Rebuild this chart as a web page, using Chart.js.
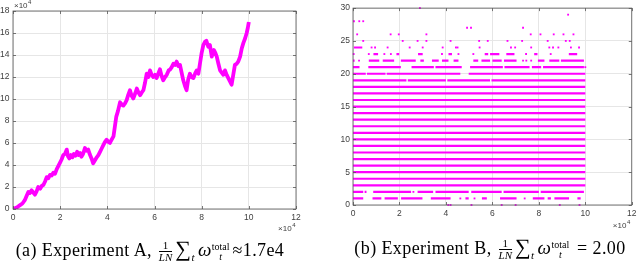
<!DOCTYPE html>
<html>
<head>
<meta charset="utf-8">
<script src="https://cdn.jsdelivr.net/npm/chart.js@4"></script>
<style>
  html, body { margin: 0; padding: 0; background: #fff; }
  body { width: 640px; height: 262px; position: relative; overflow: hidden; }
  .panel { position: absolute; top: 0; width: 320px; height: 262px; }
  .cap {
    position: absolute; width: 300px; text-align: center; white-space: nowrap;
    font-family: 'Liberation Serif', 'DejaVu Serif', serif; font-size: 18px; letter-spacing: 0.4px;
    line-height: 22px; color: #000;
  }
  .frac { display: inline-flex; flex-direction: column; vertical-align: middle; font-size: 11px; line-height: 11px;
    text-align: center; margin: 0 3px 0 2px; letter-spacing: 0; }
  .frac .num { border-bottom: 0.8px solid #000; }
  .sum { font-size: 22px; }
  .sub { font-size: 11px; position: relative; top: 5px; margin-right: 3px; }
  .om { font-size: 19px; }
  .ss { display: inline-flex; flex-direction: column; vertical-align: middle; font-size: 10px; line-height: 10px;
    letter-spacing: 0; margin-right: 3px; }
</style>
</head>
<body>
<div class="panel" style="left:0"><canvas id="chartA" width="320" height="262"></canvas></div>
<div class="panel" style="left:320px"><canvas id="chartB" width="320" height="262"></canvas></div>
<div class="cap" style="left:0; top:238px">(a) Experiment A, <span class="frac"><span class="num">1</span><span><i>LN</i></span></span><span class="sum">∑</span><span class="sub"><i>t</i></span><i class="om">ω</i><span class="ss"><span>total</span><span><i>t</i></span></span>≈1.7e4</div>
<div class="cap" style="left:340px; top:236px">(b) Experiment B, <span class="frac"><span class="num">1</span><span><i>LN</i></span></span><span class="sum">∑</span><span class="sub"><i>t</i></span><i class="om">ω</i><span class="ss"><span>total</span><span><i>t</i></span></span> = 2.00</div>
<script>
// x values are in units of 1e4 (axis shows x10^4)
const xTicks = [0, 2, 4, 6, 8, 10, 12];
const yTicksA = [0, 2, 4, 6, 8, 10, 12, 14, 16, 18];
const yTicksB = [0, 5, 10, 15, 20, 25, 30];

// Experiment A: cumulative total (units of 1e4)
const stepsA = [0, 0.1, 0.2, 0.3, 0.4, 0.5, 0.58, 0.65, 0.72, 0.79, 0.86, 0.93, 1.0, 1.07, 1.15, 1.22, 1.29, 1.36, 1.43, 1.5,
  1.57, 1.64, 1.71, 1.78, 1.85, 1.92, 1.99, 2.06, 2.13, 2.2, 2.28, 2.33, 2.39, 2.46, 2.52, 2.58, 2.65, 2.72, 2.78, 2.85,
  2.9, 2.97, 3.05, 3.12, 3.19, 3.26, 3.33, 3.4, 3.47, 3.55, 3.62, 3.69, 3.76, 3.83, 3.9, 3.97, 4.04, 4.11, 4.18, 4.26,
  4.32, 4.38, 4.45, 4.54, 4.61, 4.68, 4.75, 4.82, 4.89, 4.96, 5.03, 5.1, 5.18, 5.25, 5.32, 5.39, 5.46, 5.53, 5.6, 5.67,
  5.74, 5.81, 5.88, 5.95, 6.02, 6.09, 6.16, 6.23, 6.3, 6.37, 6.45, 6.52, 6.6, 6.67, 6.73, 6.8, 6.87, 6.94, 7.01, 7.08,
  7.15, 7.22, 7.29, 7.36, 7.43, 7.5, 7.57, 7.65, 7.72, 7.79, 7.86, 7.93, 8.0, 8.07, 8.14, 8.2, 8.28, 8.35, 8.43, 8.48,
  8.52, 8.58, 8.64, 8.71, 8.78, 8.85, 8.92, 8.99, 9.06, 9.13, 9.2, 9.27, 9.34, 9.41, 9.48, 9.55, 9.63, 9.7, 9.77, 9.84,
  9.91, 9.96, 10.0];
const totalA = [0, 0.08, 0.2, 0.35, 0.5, 0.8, 1.2, 1.55, 1.45, 1.7, 1.5, 1.3, 1.6, 2.0, 1.85, 2.1, 2.2, 2.5, 2.9, 2.8,
  3.1, 3.05, 3.3, 3.2, 3.6, 3.9, 4.2, 4.5, 4.9, 5.0, 5.4, 4.8, 4.6, 4.9, 4.7, 5.0, 4.85, 5.2, 4.9, 5.1,
  4.75, 5.0, 5.55, 5.3, 5.4, 4.95, 4.6, 4.15, 4.4, 4.7, 4.9, 5.2, 5.5, 5.8, 6.1, 6.3, 6.1, 6.0, 6.3, 6.6,
  7.5, 8.4, 8.9, 9.7, 9.5, 9.4, 9.6, 9.9, 10.4, 10.8, 10.3, 10.05, 10.5, 10.95, 10.6, 10.35, 10.6, 10.8, 11.5, 12.3,
  12.0, 12.6, 12.2, 12.0, 12.2, 11.9, 12.3, 12.7, 12.1, 11.7, 12.0, 12.2, 12.6, 12.7, 12.9, 13.2, 13.1, 13.4, 13.0, 13.1,
  12.4, 11.7, 11.2, 10.8, 11.8, 12.3, 12.0, 11.9, 12.3, 12.6, 12.3, 13.25, 14.2, 14.9, 15.2, 15.3, 14.75, 14.9, 13.85, 14.3,
  14.45, 14.2, 13.85, 13.2, 12.6, 12.4, 12.2, 12.6, 12.2, 11.9, 11.6, 11.3, 12.2, 13.1, 13.2, 13.4, 13.85, 14.6, 15.1, 15.5,
  16.0, 16.5, 17.0];

// Experiment B: levels that are occupied over the whole run
const fullLevelsB = [3, 4, 5, 6, 7, 8, 9, 10, 11, 12, 13, 14, 15, 16, 17, 18];
// [level, from, to] runs of points
const runsB = [
  [19, 0, 2.3], [19, 2.36, 4.0], [19, 4.06, 5.9], [19, 5.96, 10],
  [20, 0, 0.55], [20, 0.6, 1.4], [20, 1.45, 4.62], [20, 4.98, 10],
  [21, 0, 0.28], [21, 0.66, 2.06], [21, 2.52, 3.48], [21, 3.55, 4.68], [21, 5.04, 6.45], [21, 6.52, 7.6], [21, 7.7, 8.1], [21, 8.18, 9.94],
  [22, 0, 0.07], [22, 0.68, 1.13], [22, 1.28, 1.77], [22, 2.06, 2.7], [22, 2.9, 3.05], [22, 3.4, 3.69], [22, 3.83, 4.11], [22, 4.33, 4.54],
  [22, 5.18, 5.39], [22, 5.53, 5.9], [22, 6.0, 6.4], [22, 6.5, 7.04], [22, 7.96, 8.24], [22, 8.45, 8.88], [22, 8.95, 9.94],
  [23, 0.88, 1.08], [23, 1.87, 1.99], [23, 2.8, 3.0], [23, 4.11, 4.26], [23, 5.67, 5.82], [23, 5.9, 6.3], [23, 6.6, 6.95], [23, 7.8, 7.94], [23, 9.29, 9.65],
  [24, 0.04, 0.4],
  [2, 0, 0.44], [2, 0.5, 0.58], [2, 0.87, 2.5], [2, 2.78, 3.45], [2, 3.55, 4.98], [2, 5.09, 6.4], [2, 6.48, 8.0], [2, 8.08, 9.94],
  [1, 0, 0.44], [1, 0.84, 1.22], [1, 1.36, 1.93], [1, 2.07, 2.99], [1, 3.35, 4.2], [1, 4.84, 4.98], [1, 5.55, 5.76], [1, 6.33, 7.04],
  [1, 7.74, 8.24], [1, 8.38, 8.52], [1, 8.67, 9.3], [1, 9.66, 9.8]
];
// [level, x] isolated points
const dotsB = [
  [0, 4.1], [0, 4.2], [0, 5.1], [0, 6.4], [0, 7.0], [0, 8.9], [0, 9.75],
  [1, 4.62], [1, 5.23], [1, 7.39], [2, 2.6], [21, 10.0], [22, 0.26], [22, 7.32], [22, 7.46], [22, 7.67],
  [23, 0.03], [23, 0.68], [23, 1.35], [23, 1.63], [23, 3.83], [23, 4.54], [23, 5.18], [23, 7.45], [23, 8.51],
  [24, 0.8], [24, 0.95], [24, 1.49], [24, 2.44], [24, 3.0], [24, 3.86], [24, 4.43], [24, 4.5], [24, 5.45], [24, 6.8], [24, 6.98],
  [24, 7.67], [24, 8.45], [24, 8.61], [24, 8.84], [24, 9.38], [24, 9.73],
  [25, 0.44], [25, 2.14], [25, 2.78], [25, 3.16], [25, 4.2], [25, 5.43], [25, 5.8], [25, 6.65], [25, 7.28], [25, 8.38], [25, 9.16], [25, 9.33],
  [26, 0.18], [26, 1.62], [26, 1.97], [26, 3.16], [26, 7.65], [26, 8.07], [26, 8.64], [26, 9.06], [26, 9.49],
  [27, 4.91], [27, 5.08], [27, 7.32],
  [28, 0.04], [28, 0.27], [28, 0.44],
  [29, 9.26], [30, 2.88]
];

const MAGENTA = '#ff00ff';
const tickFont = { family: "'Liberation Sans', Arial, sans-serif", size: 8.5 };
const tickColor = '#404040';
const gridColor = '#e6e6e6';

function drawExp(ctx, x, y, alignRight) {
  ctx.fillStyle = tickColor;
  ctx.textBaseline = 'alphabetic';
  ctx.font = "8px 'Liberation Sans', Arial, sans-serif";
  const w1 = ctx.measureText('\u00d710').width;
  ctx.font = "6px 'Liberation Sans', Arial, sans-serif";
  const w2 = ctx.measureText('4').width;
  const x0 = alignRight ? x - w1 - w2 : x;
  ctx.font = "8px 'Liberation Sans', Arial, sans-serif";
  ctx.textAlign = 'left';
  ctx.fillText('\u00d710', x0, y);
  ctx.font = "6px 'Liberation Sans', Arial, sans-serif";
  ctx.fillText('4', x0 + w1 + 0.5, y - 4);
}

// box, inward ticks and x10^4 markers, matlab style
const framePlugin = {
  id: 'frame',
  afterDatasetsDraw(chart, args, opts) {
    const { ctx, chartArea: a, scales: { x, y } } = chart;
    ctx.save();
    ctx.strokeStyle = '#555';
    ctx.lineWidth = 0.8;
    ctx.strokeRect(a.left, a.top, a.right - a.left, a.bottom - a.top);
    ctx.beginPath();
    x.ticks.forEach(t => {
      const px = Math.round(x.getPixelForValue(t.value)) + 0.5;
      ctx.moveTo(px, a.bottom); ctx.lineTo(px, a.bottom - 3);
      ctx.moveTo(px, a.top); ctx.lineTo(px, a.top + 3);
    });
    y.ticks.forEach(t => {
      const py = Math.round(y.getPixelForValue(t.value)) + 0.5;
      ctx.moveTo(a.left, py); ctx.lineTo(a.left + 3, py);
      ctx.moveTo(a.right, py); ctx.lineTo(a.right - 3, py);
    });
    ctx.stroke();
    if (opts.topExp) drawExp(ctx, a.left + 1, a.top - 3, false);
    drawExp(ctx, a.right + opts.bottomExpDx, a.bottom + opts.bottomExpDy, true);
    ctx.restore();
  }
};

function axes(yTicks, yWidth, xHeight, xPad, yPad) {
  return {
    x: {
      type: 'linear', min: 0, max: 12,
      afterBuildTicks: s => { s.ticks = xTicks.map(v => ({ value: v })); },
      afterFit: s => { s.height = xHeight; },
      grid: { color: gridColor, drawTicks: false },
      border: { display: false },
      ticks: { font: tickFont, color: tickColor, padding: xPad, maxRotation: 0 }
    },
    y: {
      type: 'linear', min: yTicks[0], max: yTicks[yTicks.length - 1],
      afterBuildTicks: s => { s.ticks = yTicks.map(v => ({ value: v })); },
      afterFit: s => { s.width = yWidth; },
      grid: { color: gridColor, drawTicks: false },
      border: { display: false },
      ticks: { font: tickFont, color: tickColor, padding: yPad }
    }
  };
}

new Chart(document.getElementById('chartA'), {
  type: 'line',
  data: {
    datasets: [{
      data: stepsA.map((s, i) => ({ x: s, y: totalA[i] })),
      borderColor: MAGENTA,
      borderWidth: 3.8,
      pointRadius: 0,
      tension: 0,
      borderJoinStyle: 'round'
    }]
  },
  options: {
    responsive: false,
    animation: false,
    layout: { padding: { top: 11, right: 24, left: 0, bottom: 0 } },
    plugins: { legend: { display: false }, tooltip: { enabled: false },
      frame: { topExp: true, bottomExpDx: -1, bottomExpDy: 22 } },
    scales: axes(yTicksA, 13, 262 - 209, 4, 3.5)
  },
  plugins: [framePlugin]
});

// build segment data separated by gaps
const segData = [];
fullLevelsB.forEach(l => { segData.push({ x: 0, y: l }, { x: 10, y: l }, { x: 10, y: null }); });
runsB.forEach(([l, a, b]) => { segData.push({ x: a, y: l }, { x: b, y: l }, { x: b, y: null }); });

new Chart(document.getElementById('chartB'), {
  type: 'line',
  data: {
    datasets: [{
      data: segData,
      borderColor: MAGENTA,
      borderWidth: 2.2,
      pointRadius: 0,
      spanGaps: false,
      borderCapStyle: 'butt',
      clip: false
    }, {
      type: 'scatter',
      data: dotsB.map(([l, x]) => ({ x: x, y: l })),
      backgroundColor: MAGENTA,
      borderWidth: 0,
      pointStyle: 'rect',
      pointRadius: 1.3,
      clip: false
    }]
  },
  options: {
    responsive: false,
    animation: false,
    layout: { padding: { top: 8, right: 5, left: 0, bottom: 0 } },
    plugins: { legend: { display: false }, tooltip: { enabled: false },
      frame: { topExp: false, bottomExpDx: -2, bottomExpDy: 23 } },
    scales: axes(yTicksB, 33, 262 - 205, 3.5, 3)
  },
  plugins: [framePlugin]
});
</script>
</body>
</html>
